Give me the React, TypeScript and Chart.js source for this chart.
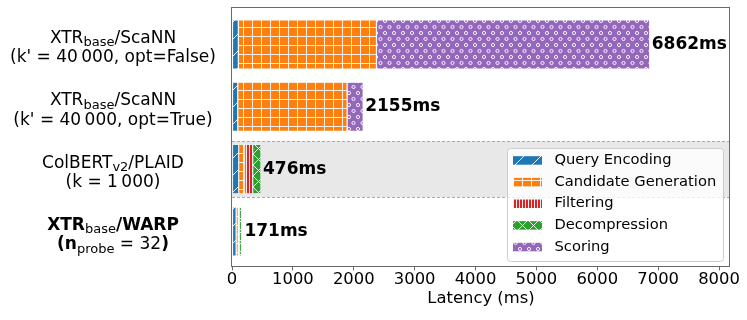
import React, { useEffect, useRef } from "react";
import { Chart, registerables } from "chart.js";

Chart.register(...registerables);

// ---------------- data ----------------
const seriesNames = ["Query Encoding", "Candidate Generation", "Filtering", "Decompression", "Scoring"];
const queryEncoding = [104, 95, 110, 68];
const candidateGeneration = [2269, 1796, 100, 35];
const filtering = [0, 0, 130, 15];
const decompression = [0, 0, 136, 38];
const scoring = [4489, 264, 0, 15];
const xTickValues = [0, 1000, 2000, 3000, 4000, 5000, 6000, 7000, 8000];
const xTitle = "Latency (ms)";

type Run = { t: string; sub?: boolean; bold?: boolean };
const rowLabels: Run[][][] = [
  [
    [{ t: "XTR" }, { t: "base", sub: true }, { t: "/ScaNN" }],
    [{ t: "(k' = 40\u2009000, opt=False)" }],
  ],
  [
    [{ t: "XTR" }, { t: "base", sub: true }, { t: "/ScaNN" }],
    [{ t: "(k' = 40\u2009000, opt=True)" }],
  ],
  [
    [{ t: "ColBERT" }, { t: "v2", sub: true }, { t: "/PLAID" }],
    [{ t: "(k = 1\u2009000)" }],
  ],
  [
    [{ t: "XTR", bold: true }, { t: "base", sub: true }, { t: "/WARP", bold: true }],
    [{ t: "(n", bold: true }, { t: "probe", sub: true }, { t: " = 32" }, { t: ")", bold: true }],
  ],
];

const seriesValues = [queryEncoding, candidateGeneration, filtering, decompression, scoring];
const seriesColors = ["#1f77b4", "#ff7f0e", "#d62728", "#2ca02c", "#9467bd"];
const seriesHatch = ["/", "+", "|", "x", "o"];
const highlightRow = 2;

const FONT = "'DejaVu Sans', 'Liberation Sans', sans-serif";

function makePattern(kind: string, color: string): CanvasPattern | string {
  const c = document.createElement("canvas");
  let w = 9,
    h = 9;
  if (kind === "/") { w = 17; h = 17; }
  if (kind === "x") { w = 11; h = 11; }
  if (kind === "|") { w = 3; h = 3; }
  if (kind === "o") { w = 9; h = 12; }
  c.width = w;
  c.height = h;
  const g = c.getContext("2d");
  if (!g) return color;
  g.fillStyle = color;
  g.fillRect(0, 0, w, h);
  const white = "rgba(255,255,255,0.9)";
  g.strokeStyle = white;
  g.fillStyle = white;
  g.lineWidth = 1;
  if (kind === "/") {
    g.beginPath();
    for (const o of [-w, 0, w]) { g.moveTo(o, h); g.lineTo(o + w, 0); }
    g.stroke();
  } else if (kind === "+") {
    g.fillRect(0, 0, 1, h);
    g.fillRect(0, 0, w, 1);
  } else if (kind === "|") {
    g.fillRect(0, 0, 1, h);
  } else if (kind === "x") {
    g.beginPath();
    for (const o of [-w, 0, w]) {
      g.moveTo(o, h); g.lineTo(o + w, 0);
      g.moveTo(o, 0); g.lineTo(o + w, h);
    }
    g.stroke();
  } else if (kind === "o") {
    g.beginPath(); g.arc(2.5, 3, 1.6, 0, Math.PI * 2); g.stroke();
    g.beginPath(); g.arc(7, 9, 1.6, 0, Math.PI * 2); g.stroke();
  }
  return g.createPattern(c, "repeat") || color;
}

function drawRuns(ctx: CanvasRenderingContext2D, runs: Run[], cx: number, baseline: number) {
  const main = 17;
  const sub = 13;
  const fontOf = (r: Run) => `${r.bold ? "bold " : ""}${r.sub ? sub : main}px ${FONT}`;
  let total = 0;
  const widths = runs.map((r) => {
    ctx.font = fontOf(r);
    const w = ctx.measureText(r.t).width;
    total += w;
    return w;
  });
  let x = cx - total / 2;
  ctx.textAlign = "left";
  ctx.textBaseline = "alphabetic";
  runs.forEach((r, i) => {
    ctx.font = fontOf(r);
    ctx.fillText(r.t, x, baseline + (r.sub ? 3.5 : 0));
    x += widths[i];
  });
}

export default function App() {
  const ref = useRef<HTMLCanvasElement | null>(null);

  useEffect(() => {
    const canvas = ref.current;
    if (!canvas) return;
    const patterns = seriesColors.map((c, i) => makePattern(seriesHatch[i], c));
    const totals = queryEncoding.map((_, r) => seriesValues.reduce((s, arr) => s + arr[r], 0));

    const decorPlugin = {
      id: "decor",
      beforeDatasetsDraw(chart: any) {
        const { ctx, chartArea } = chart;
        const y = chart.scales.y;
        const y0 = y.getPixelForValue(highlightRow - 0.45);
        const y1 = y.getPixelForValue(highlightRow + 0.45);
        ctx.save();
        ctx.fillStyle = "#e8e8e8";
        ctx.fillRect(chartArea.left, Math.min(y0, y1), chartArea.right - chartArea.left, Math.abs(y1 - y0));
        ctx.strokeStyle = "#aaaaaa";
        ctx.lineWidth = 1;
        ctx.setLineDash([3, 2]);
        for (const yy of [y0, y1]) {
          ctx.beginPath();
          ctx.moveTo(chartArea.left, Math.round(yy) + 0.5);
          ctx.lineTo(chartArea.right, Math.round(yy) + 0.5);
          ctx.stroke();
        }
        ctx.restore();
      },
      afterDatasetsDraw(chart: any) {
        const { ctx, chartArea } = chart;
        const x = chart.scales.x;
        const y = chart.scales.y;
        ctx.save();
        // frame
        ctx.strokeStyle = "#6a6a6a";
        ctx.lineWidth = 1;
        ctx.strokeRect(
          Math.round(chartArea.left) - 0.5,
          Math.round(chartArea.top) + 0.5,
          Math.round(chartArea.right - chartArea.left),
          Math.round(chartArea.bottom - chartArea.top)
        );
        // totals
        ctx.fillStyle = "#000";
        ctx.font = `bold 17px ${FONT}`;
        ctx.textAlign = "left";
        ctx.textBaseline = "middle";
        totals.forEach((t, r) => {
          ctx.fillText(`${t}ms`, x.getPixelForValue(t) + 2, y.getPixelForValue(r));
        });
        // row labels
        rowLabels.forEach((lines, r) => {
          const cy = y.getPixelForValue(r);
          drawRuns(ctx, lines[0], 113, cy - 1.5);
          drawRuns(ctx, lines[1], 113, cy + 18);
        });
        // legend
        const lx = 507, ly = 148, lw = 216, lh = 113;
        ctx.fillStyle = "rgba(255,255,255,0.8)";
        ctx.strokeStyle = "#cccccc";
        ctx.beginPath();
        (ctx as any).roundRect(lx + 0.5, ly + 0.5, lw, lh, 3);
        ctx.fill();
        ctx.stroke();
        ctx.font = `14.7px ${FONT}`;
        ctx.textBaseline = "middle";
        seriesNames.forEach((name, i) => {
          const cy = 160.2 + i * 21.65;
          ctx.fillStyle = patterns[i] as any;
          ctx.fillRect(513, cy - 4, 29, 8.5);
          ctx.fillStyle = "#000";
          ctx.fillText(name, 554.5, cy);
        });
        ctx.restore();
      },
    };

    const chart = new Chart(canvas, {
      type: "bar",
      data: {
        datasets: seriesNames.map((name, i) => ({
          label: name,
          data: seriesValues[i].map((v, r) => ({ x: v, y: r })),
          backgroundColor: patterns[i] as any,
          borderColor: "rgba(255,255,255,0.8)",
          borderWidth: 0.6,
          borderSkipped: false,
          categoryPercentage: 1,
          barPercentage: 0.79,
        })),
      },
      options: {
        indexAxis: "y",
        animation: false,
        responsive: false,
        devicePixelRatio: 1,
        layout: { padding: { left: 232, top: 7, right: 17, bottom: 11.5 } },
        scales: {
          x: {
            type: "linear",
            stacked: true,
            min: 0,
            max: 8180,
            afterBuildTicks: (s: any) => {
              s.ticks = xTickValues.map((v) => ({ value: v }));
            },
            grid: { drawOnChartArea: false, drawTicks: true, tickLength: 4, tickColor: "#6a6a6a" },
            border: { display: false },
            ticks: {
              color: "#000",
              padding: 1,
              maxRotation: 0,
              autoSkip: false,
              callback: (v: any) => String(v),
              font: { family: FONT, size: 16.4, lineHeight: 1 },
            },
            title: {
              display: true,
              text: xTitle,
              color: "#000",
              padding: 0,
              font: { family: FONT, size: 16.4, lineHeight: 1.2 },
            },
          },
          y: {
            type: "linear",
            stacked: true,
            reverse: true,
            offset: false,
            min: -0.6,
            max: 3.56,
            display: false,
            afterBuildTicks: (s: any) => {
              s.ticks = queryEncoding.map((_, r) => ({ value: r }));
            },
          },
        },
        plugins: { legend: { display: false }, tooltip: { enabled: false } },
      } as any,
      plugins: [decorPlugin],
    });
    return () => chart.destroy();
  }, []);

  return (
    <div style={{ position: "fixed", left: 0, top: 0, width: 747, height: 320, background: "#fff" }}>
      <canvas ref={ref} width={747} height={320} style={{ width: 747, height: 320 }} />
    </div>
  );
}
